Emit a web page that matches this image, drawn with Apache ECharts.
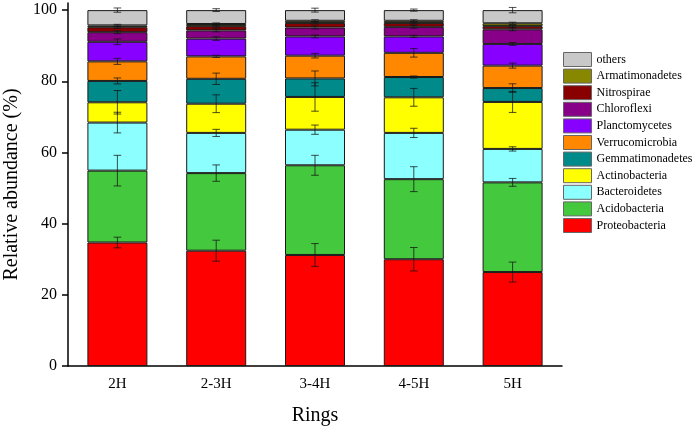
<!DOCTYPE html>
<html>
<head>
<meta charset="utf-8">
<script src="https://cdn.jsdelivr.net/npm/echarts@6/dist/echarts.min.js"></script>
<style>html,body{margin:0;padding:0;background:#fff;}#c{width:697px;height:429px;}</style>
</head>
<body>
<div id="c"></div>
<script>
var categories = ['2H', '2-3H', '3-4H', '4-5H', '5H'];
var yTicks = [0, 20, 40, 60, 80, 100];

// stacking order bottom -> top
var seriesNames = ['Proteobacteria', 'Acidobacteria', 'Bacteroidetes', 'Actinobacteria', 'Gemmatimonadetes',
  'Verrucomicrobia', 'Planctomycetes', 'Chloroflexi', 'Nitrospirae', 'Armatimonadetes', 'others'];

var proteobacteria   = [34.7, 32.4, 31.2, 30.0, 26.4];
var acidobacteria    = [20.2, 21.8, 25.2, 22.5, 25.2];
var bacteroidetes    = [13.5, 11.3, 10.0, 13.0, 9.4];
var actinobacteria   = [5.7, 8.2, 9.2, 10.0, 13.2];
var gemmatimonadetes = [6.0, 7.0, 5.2, 5.7, 3.9];
var verrucomicrobia  = [5.5, 6.3, 6.4, 6.8, 6.3];
var planctomycetes   = [5.5, 5.0, 5.4, 4.6, 6.1];
var chloroflexi      = [2.7, 2.3, 2.5, 2.7, 4.1];
var nitrospirae      = [1.4, 1.2, 1.3, 1.1, 0.9];
var armatimonadetes  = [0.5, 0.6, 0.6, 0.6, 0.8];
var others           = [4.3, 3.9, 3.0, 3.0, 3.7];

// error (half-length) at the top of each segment
var errProteobacteria   = [1.5, 2.95, 3.2, 3.3, 2.8];
var errAcidobacteria    = [4.3, 2.3, 2.8, 3.5, 1.1];
var errBacteroidetes    = [2.9, 1.0, 1.3, 1.3, 0.6];
var errActinobacteria   = [3.3, 2.5, 4.0, 2.5, 2.95];
var errGemmatimonadetes = [0.84, 1.6, 2.1, 0.3, 1.2];
var errVerrucomicrobia  = [0.85, 0.3, 0.65, 1.2, 0.7];
var errPlanctomycetes   = [0.8, 0.5, 0.4, 0.3, 0.4];
var errChloroflexi      = [0.4, 0.4, 0.4, 0.4, 0.4];
var errNitrospirae      = [0.3, 0.3, 0.3, 0.3, 0.3];
var errArmatimonadetes  = [0.3, 0.3, 0.3, 0.3, 0.3];
var errOthers           = [0.6, 0.4, 0.55, 0.3, 0.75];

var values = [proteobacteria, acidobacteria, bacteroidetes, actinobacteria, gemmatimonadetes,
  verrucomicrobia, planctomycetes, chloroflexi, nitrospirae, armatimonadetes, others];
var errors = [errProteobacteria, errAcidobacteria, errBacteroidetes, errActinobacteria, errGemmatimonadetes,
  errVerrucomicrobia, errPlanctomycetes, errChloroflexi, errNitrospirae, errArmatimonadetes, errOthers];

var colors = ['#FF0000', '#44C83E', '#8CFFFF', '#FFFF00', '#008A8A', '#FF8800', '#8800FF', '#880088', '#880000', '#888800', '#C8C8C8'];

var FONT = 'Liberation Serif';

var series = [];
for (var i = 0; i < seriesNames.length; i++) {
  series.push({
    name: seriesNames[i],
    type: 'bar',
    stack: 'total',
    barWidth: 60,
    data: values[i],
    itemStyle: { color: colors[i], borderColor: '#1a1a1a', borderWidth: 1 },
    emphasis: { disabled: true }
  });
}

// error bar data: [catIndex, low, high]
var errData = [];
for (var c = 0; c < categories.length; c++) {
  var cum = 0;
  for (var s = 0; s < seriesNames.length; s++) {
    cum += values[s][c];
    var e = errors[s][c];
    errData.push([c, cum - e, cum + e]);
  }
}

series.push({
  name: 'errorbars',
  type: 'custom',
  z: 10,
  silent: true,
  data: errData,
  renderItem: function (params, api) {
    var x = api.value(0), lo = api.value(1), hi = api.value(2);
    var top = api.coord([x, hi]);
    var bot = api.coord([x, lo]);
    var cw = 3.8;
    var st = { stroke: 'rgba(20,20,20,0.75)', lineWidth: 1 };
    return {
      type: 'group',
      children: [
        { type: 'line', shape: { x1: top[0], y1: top[1], x2: bot[0], y2: bot[1] }, style: st },
        { type: 'line', shape: { x1: top[0] - cw, y1: top[1], x2: top[0] + cw, y2: top[1] }, style: st },
        { type: 'line', shape: { x1: bot[0] - cw, y1: bot[1], x2: bot[0] + cw, y2: bot[1] }, style: st }
      ]
    };
  }
});

var chart = echarts.init(document.getElementById('c'), null, { renderer: 'canvas' });
chart.setOption({
  animation: false,
  backgroundColor: '#fff',
  textStyle: { fontFamily: FONT },
  grid: { left: 68, right: 135, top: 3, bottom: 63, containLabel: false, outerBoundsMode: 'none' },
  legend: {
    data: seriesNames.slice().reverse(),
    orient: 'vertical',
    left: 558,
    top: 47,
    itemWidth: 28,
    itemHeight: 14,
    itemGap: 1.6,
    icon: 'rect',
    itemStyle: { borderColor: '#666', borderWidth: 1 },
    textStyle: { fontFamily: FONT, fontSize: 12, color: '#000' },
    selectedMode: false
  },
  xAxis: {
    type: 'category',
    data: categories,
    name: 'Rings',
    nameLocation: 'middle',
    nameGap: 40,
    nameTextStyle: { fontFamily: FONT, fontSize: 20, color: '#000' },
    axisLine: { lineStyle: { color: '#000', width: 1.5 } },
    axisTick: { alignWithLabel: true, length: 6, lineStyle: { color: '#000', width: 1.5 } },
    axisLabel: { fontFamily: FONT, fontSize: 15, color: '#000', margin: 11 }
  },
  yAxis: {
    type: 'value',
    min: 0,
    max: 102,
    name: 'Relative abundance (%)',
    nameLocation: 'middle',
    nameGap: 46,
    nameTextStyle: { fontFamily: FONT, fontSize: 20, color: '#000' },
    splitLine: { show: false },
    axisLine: { show: true, lineStyle: { color: '#000', width: 1.5 } },
    axisTick: { show: true, length: 6, customValues: yTicks, lineStyle: { color: '#000', width: 1.5 } },
    axisLabel: { fontFamily: FONT, fontSize: 16, color: '#000', margin: 11, customValues: yTicks }
  },
  series: series
});
</script>
</body>
</html>
